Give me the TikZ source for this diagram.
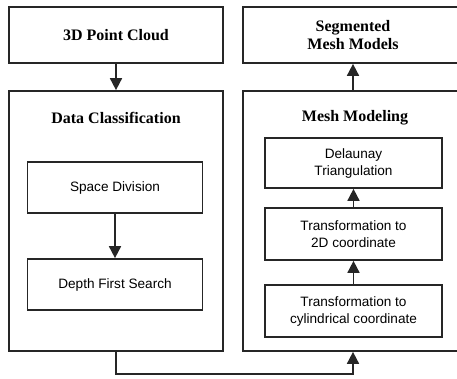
\documentclass[tikz,border=0pt]{standalone}
\usepackage{fontspec}
\setmainfont{Liberation Serif}
\newfontfamily\innerfont{Liberation Sans}
\usetikzlibrary{arrows.meta}
\tikzset{
  x=1pt, y=-1pt,
  frame/.style={draw=black!85, line width=1.7pt, rectangle, inner sep=0pt},
  headtext/.style={font=\fontsize{16}{18}\selectfont\bfseries, align=center},
  innertext/.style={font=\innerfont\fontsize{13.6}{17}\selectfont, align=center},
  flow/.style={draw=black!85, line width=1.7pt, -{Triangle[width=12pt,length=12pt]}},
}
\begin{document}
\begin{tikzpicture}
\useasboundingbox (0,0) rectangle (457,378);
\clip (0,0) rectangle (457,378);
% left column
\node[frame, headtext, minimum width=214pt, minimum height=56pt] (pc) at (116,35) {3D Point Cloud};
\node[frame, minimum width=214pt, minimum height=260pt] (dc) at (116,221) {};
\node[headtext] (dct) at (116,118) {Data Classification};
\node[frame, innertext, minimum width=175pt, minimum height=51pt] (sd) at (115,187.5) {Space Division};
\node[frame, innertext, minimum width=175pt, minimum height=51pt] (dfs) at (115,284.5) {Depth First Search};
% right column
\node[frame, headtext, minimum width=220pt, minimum height=56pt] (smm) at (353,35) {Segmented\\Mesh Models};
\node[frame, minimum width=220pt, minimum height=260pt] (mm) at (353,221) {};
\node[headtext] (mmt) at (355,118) {Mesh Modeling};
\node[frame, innertext, minimum width=177pt, minimum height=50pt] (del) at (353.5,163) {Delaunay\\Triangulation};
\node[frame, innertext, minimum width=177pt, minimum height=52pt] (t2d) at (353.5,234) {Transformation to\\2D coordinate};
\node[frame, innertext, minimum width=177pt, minimum height=52pt] (tcyl) at (353.5,311) {Transformation to\\cylindrical coordinate};
% connectors
\draw[flow] (pc.south) -- (dc.north);
\draw[flow] (sd.south) -- (dfs.north);
\draw[flow] (mm.north) -- (smm.south);
\draw[flow] (tcyl.north) -- (t2d.south);
\draw[flow] (t2d.north) -- (del.south);
\coordinate (low) at (116,374);
\draw[flow] (dc.south) |- (low) -| (mm.south);
\end{tikzpicture}
\end{document}
